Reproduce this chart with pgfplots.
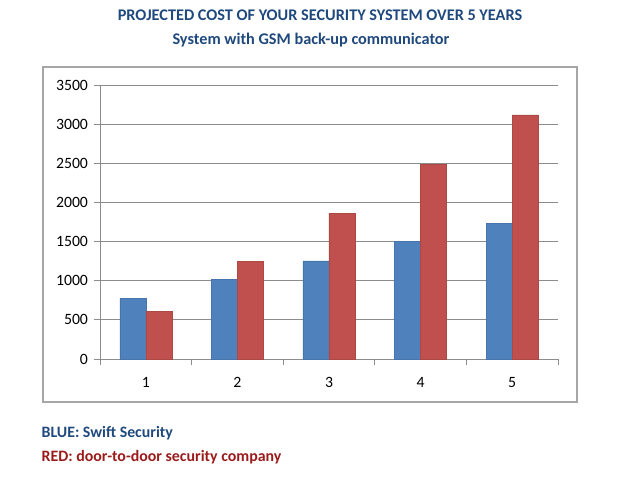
\documentclass[border=0pt]{standalone}
\usepackage{pgfplots}
\pgfplotsset{compat=1.18}
\usepackage{fontspec}
\setmainfont{Carlito}
\definecolor{barblue}{HTML}{4F81BD}
\definecolor{barred}{HTML}{C0504D}
\definecolor{titleblue}{HTML}{1F497D}
\definecolor{textred}{HTML}{9B1B1B}
\definecolor{framegray}{HTML}{A6A6A6}
\definecolor{gridgray}{HTML}{8C8C8C}
\begin{document}
\begin{tikzpicture}[x=0.75pt,y=-0.75pt]
\path (0,0) rectangle (640,494);
\draw[framegray, line width=1.1pt] (43,67) rectangle (577,402);
\node[font=\bfseries\fontsize{12.2}{14}\selectfont, text=titleblue] at (320,15) {PROJECTED COST OF YOUR SECURITY SYSTEM OVER 5 YEARS};
\node[font=\bfseries\fontsize{12.2}{14}\selectfont, text=titleblue] at (311,40) {System with GSM back-up communicator};
\node[font=\bfseries\fontsize{11.9}{14}\selectfont, text=titleblue, anchor=west] at (37,433) {BLUE: Swift Security};
\node[font=\bfseries\fontsize{11.9}{14}\selectfont, text=textred, anchor=west] at (37,457) {RED: door-to-door security company};
\coordinate (A) at (100,359);
\begin{axis}[
  at={(A)}, anchor=south west,
  width=343.5pt, height=205.5pt, scale only axis,
  xmin=0.5, xmax=5.5, ymin=0, ymax=3500,
  ybar=0pt, bar width=19.5pt,
  axis x line=bottom, axis y line=left,
  axis line style={-, gridgray, line width=0.6pt},
  xtick={1,2,3,4,5},
  minor xtick={0.5,1.5,2.5,3.5,4.5,5.5},
  major x tick style={draw=none},
  minor x tick style={gridgray, line width=0.6pt},
  minor tick length=4.5pt,
  ytick={0,500,...,3500},
  y tick style={gridgray, line width=0.6pt},
  major tick length=4.5pt,
  tick align=outside,
  ymajorgrids, grid style={gridgray, line width=0.6pt},
  ticklabel style={font=\fontsize{11.8}{13}\selectfont},
  /pgf/number format/assume math mode=true,
  /pgf/number format/set thousands separator={},
  xticklabel style={yshift=-6pt},
  yticklabel style={xshift=-1pt},
  clip=false,
]
\addplot[fill=barblue, draw=barblue!90!black, line width=0.3pt] coordinates {(1,775) (2,1020) (3,1255) (4,1500) (5,1730)};
\addplot[fill=barred, draw=barred!90!black, line width=0.3pt] coordinates {(1,610) (2,1245) (3,1865) (4,2490) (5,3120)};
\end{axis}
\end{tikzpicture}
\end{document}
